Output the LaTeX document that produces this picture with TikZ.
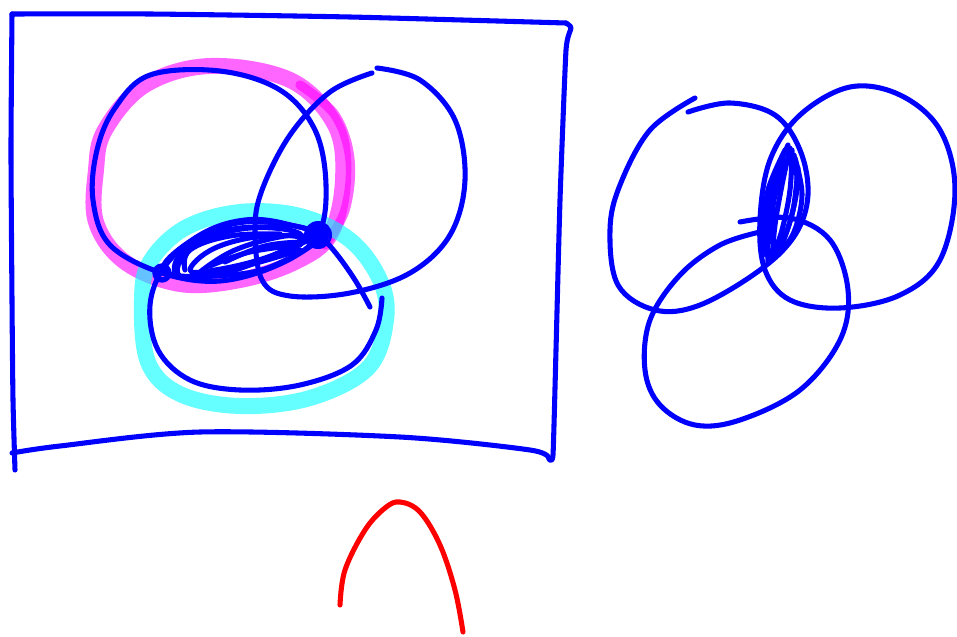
\documentclass[tikz,border=0pt]{standalone}
\definecolor{hlmag}{RGB}{255,0,255}
\definecolor{hlcyan}{RGB}{0,255,255}
\definecolor{penblue}{RGB}{0,0,255}
\definecolor{penred}{RGB}{255,0,0}
\begin{document}
\begin{tikzpicture}[x=0.75pt,y=-0.75pt,
  pen/.style={penblue,line width=3.8pt,line cap=round,line join=round},
  hl/.style={line width=12pt,line cap=round,line join=round,opacity=0.6},
  redpen/.style={penred,line width=3.8pt,line cap=round}]
\useasboundingbox (0,0) rectangle (957,636);
% frame
\draw[pen] plot[smooth,tension=0.4] coordinates {(12,14) (150,14) (350,17) (566,23)};
\draw[pen] plot[smooth,tension=0.3] coordinates {(566,23) (571,28) (566,50) (560,200) (556,350) (553,455) (549,459)};
\draw[pen] plot[smooth,tension=0.5] coordinates {(549,459) (530,450) (400,437) (200,432) (60,446) (12,453)};
\draw[pen] plot[smooth,tension=0.4] coordinates {(12,14) (11,150) (12,300) (13,400) (15,470)};
% highlights
\draw[hl,hlmag] plot[smooth cycle,tension=0.6] coordinates {(105,130) (145,85) (210,66) (290,80) (335,125) (343,180) (330,235) (295,262) (240,280) (180,284) (125,262) (96,222) (96,170)};
\draw[hl,hlmag,line width=7pt] plot[smooth,tension=0.6] coordinates {(300,85) (335,115) (350,160) (345,210) (325,245)};
\draw[hl,hlcyan] plot[smooth cycle,tension=0.6] coordinates {(142,300) (150,262) (185,228) (240,212) (300,216) (350,240) (380,280) (386,320) (368,368) (310,398) (240,406) (180,394) (148,362)};
% circle A
\draw[pen] plot[smooth cycle,tension=0.6] coordinates {(150,75) (115,108) (97,150) (93,200) (110,245) (162,273) (220,281) (280,264) (318,235) (326,185) (315,130) (280,90) (220,71)};
% circle B
\draw[pen] plot[smooth,tension=0.6] coordinates {(377,68) (420,80) (455,120) (465,180) (450,235) (410,273) (350,293) (290,296) (262,280) (255,230) (262,190) (290,135) (330,92) (372,73)};
% circle C
\draw[pen] plot[smooth,tension=0.6] coordinates {(370,307) (355,280) (335,252) (318,235) (295,226) (245,222) (200,236) (165,266) (150,305) (158,350) (190,380) (240,390) (300,385) (352,365) (376,330) (382,298)};
% hatching left
\draw[pen] plot[smooth cycle,tension=0.7] coordinates {(165,272) (195,238) (245,220) (295,226) (318,237) (290,258) (240,274)};
\draw[pen] plot[smooth cycle,tension=0.7] coordinates {(178,274) (195,245) (250,228) (302,236) (262,260) (210,276)};
\draw[pen] plot[smooth cycle,tension=0.7] coordinates {(190,270) (215,248) (265,236) (305,240) (265,258) (215,270)};
\draw[pen] plot[smooth,tension=0.7] coordinates {(200,272) (235,250) (285,236) (310,238)};
\draw[pen] plot[smooth,tension=0.7] coordinates {(182,262) (198,240) (240,228) (290,228)};
\draw[pen] plot[smooth,tension=0.7] coordinates {(210,266) (250,252) (300,245)};
\draw[pen] plot[smooth,tension=0.7] coordinates {(185,270) (190,250) (230,236) (280,234)};
\draw[pen] plot[smooth,tension=0.7] coordinates {(225,262) (265,246) (305,242)};
\draw[pen] plot[smooth,tension=0.7] coordinates {(195,276) (245,266) (300,250)};
\draw[pen] plot[smooth,tension=0.7] coordinates {(175,275) (178,258) (205,238)};
% dots
\draw[penblue,line width=4pt] (162,273) circle (7);
\fill[penblue] (318,235) circle (14);
% right Venn
\draw[pen] plot[smooth,tension=0.6] coordinates {(688,112) (730,103) (775,115) (800,150) (808,195) (795,235) (760,270) (700,305) (655,310) (618,285) (610,230) (620,185) (650,130) (695,98)};
\draw[pen] plot[smooth cycle,tension=0.6] coordinates {(850,87) (900,95) (940,130) (955,190) (940,260) (900,295) (840,308) (790,300) (765,270) (760,220) (770,160) (800,115)};
\draw[pen] plot[smooth,tension=0.6] coordinates {(740,222) (790,218) (830,240) (848,290) (840,340) (800,390) (740,420) (695,425) (660,405) (645,370) (650,320) (680,275) (720,245) (760,232)};
% hatching right
\draw[pen] plot[smooth,tension=0.6] coordinates {(788,145) (776,175) (768,215) (768,262)};
\draw[pen] plot[smooth,tension=0.6] coordinates {(792,150) (790,190) (782,230) (772,258)};
\draw[pen] plot[smooth,tension=0.6] coordinates {(795,158) (802,195) (794,232) (778,255)};
\draw[pen] plot[smooth,tension=0.6] coordinates {(785,150) (768,190) (764,230) (766,255)};
\draw[pen] plot[smooth,tension=0.6] coordinates {(790,148) (782,185) (775,225) (772,260)};
\draw[pen] plot[smooth,tension=0.6] coordinates {(794,155) (797,188) (788,228) (776,252)};
\draw[pen] plot[smooth,tension=0.6] coordinates {(786,160) (774,200) (771,242)};
\draw[pen] plot[smooth,tension=0.6] coordinates {(798,168) (793,210) (782,245)};
% red arc
\draw[redpen] plot[smooth,tension=0.6] coordinates {(340,605) (345,570) (365,530) (385,508) (400,502) (420,512) (440,545) (455,590) (463,632)};
\end{tikzpicture}
\end{document}
